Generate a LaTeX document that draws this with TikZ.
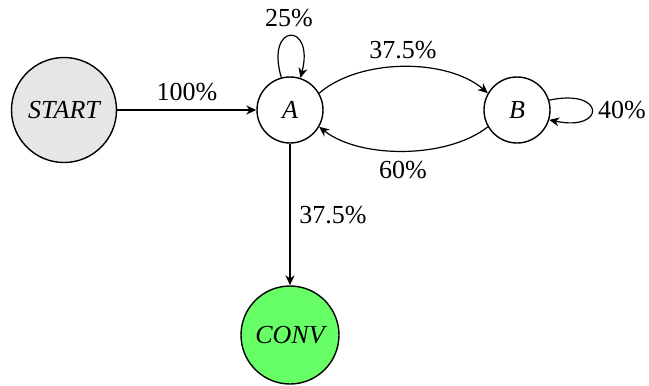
\documentclass[tikz,border=0pt]{standalone}
\usepackage{fontspec}
\setmainfont{Liberation Serif}
\usetikzlibrary{arrows.meta}
\definecolor{startgray}{HTML}{E6E6E6}
\definecolor{convgreen}{HTML}{66FF66}
\begin{document}
\begin{tikzpicture}[x=0.5pt,y=-0.5pt,
  font=\fontsize{13}{15}\selectfont,
  state/.style={circle,draw,line width=0.7pt,inner sep=0pt,font=\fontsize{13}{15}\selectfont\itshape},
  conn/.style={line width=0.6pt,-{Stealth[length=5pt,width=4.5pt,inset=1.6pt]}},
  lbl/.style={inner sep=0pt}]
\useasboundingbox (0,0) rectangle (649,386);
\node[state,fill=startgray,minimum size=52.5pt] (S) at (64,110) {START};
\node[state,fill=white,minimum size=33pt] (A) at (290,110) {A};
\node[state,fill=white,minimum size=33pt] (B) at (517,110) {B};
\node[state,fill=convgreen,minimum size=49pt] (C) at (290,335) {CONV};
\draw[conn] (S) -- (A);
\node[lbl] (l1) at (187,92) {100\%};
\draw[conn] (A.105) .. controls (265,22) and (315,22) .. (A.72);
\node[lbl] (l2) at (289,18) {25\%};
\draw[conn] (A.30) .. controls (360,58) and (447,58) .. (B.150);
\node[lbl] (l3) at (403,50) {37.5\%};
\draw[conn] (B.210) .. controls (447,159) and (360,159) .. (A.330);
\node[lbl] (l4) at (403,170) {60\%};
\draw[conn] (B.17) .. controls (606,88) and (606,132) .. (B.-17);
\node[lbl] (l5) at (622,110) {40\%};
\draw[conn] (A) -- (C);
\node[lbl] (l6) at (333,215) {37.5\%};
\end{tikzpicture}
\end{document}
